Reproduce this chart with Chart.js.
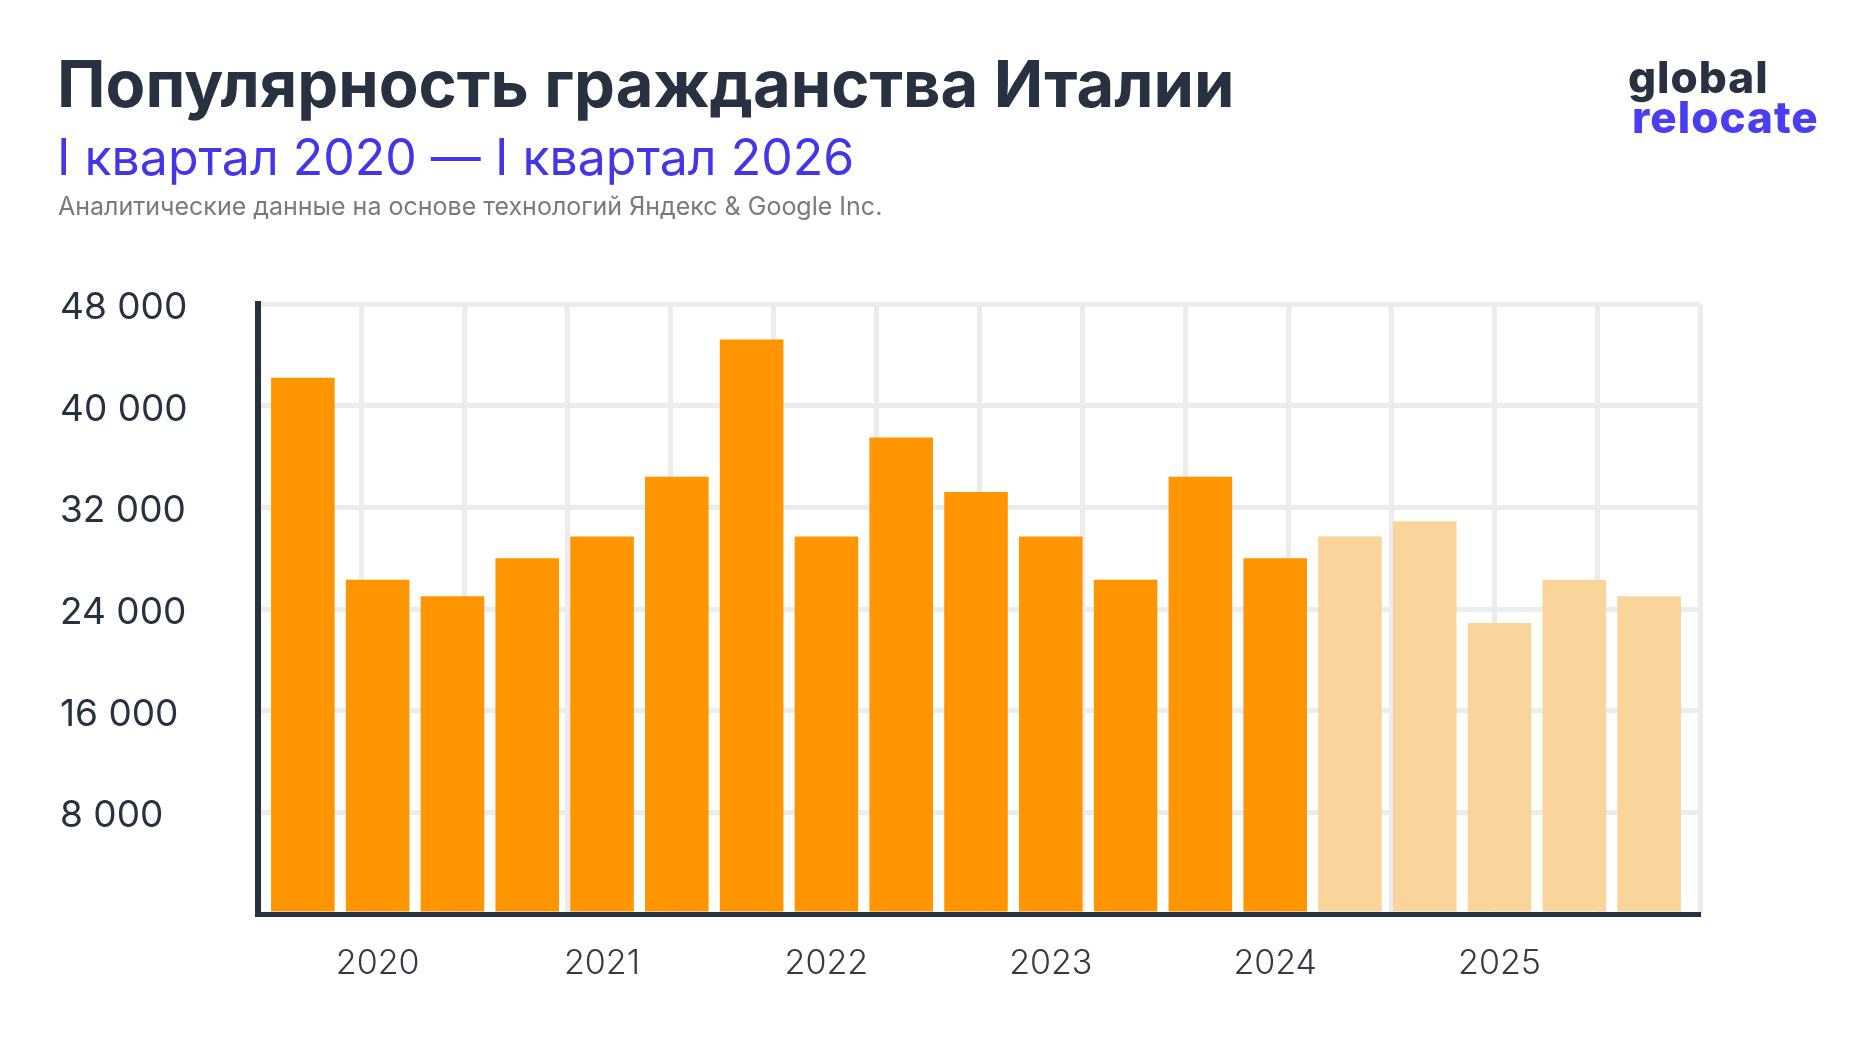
<!DOCTYPE html>
<html>
<head>
<meta charset="utf-8">
<script src="https://cdn.jsdelivr.net/npm/chart.js@4"></script>
<style>
  html, body { margin: 0; padding: 0; background: #fff; }
  #wrap { position: relative; width: 1870px; height: 1043px; }
</style>
</head>
<body>
<div id="wrap"><canvas id="chartItaly"></canvas></div>
<script>
// texts
const titleText = 'Популярность гражданства Италии'
const periodText = 'I квартал 2020 — I квартал 2026'
const sourceText = 'Аналитические данные на основе технологий Яндекс & Google Inc.'
const logoTop = 'global'
const logoBottom = 'relocate'

// data, one bar per quarter; last bars are the lighter (forecast) ones
const values = [42200, 26300, 25000, 28000, 29700, 34400, 45200, 29700, 37500, 33200,
  29700, 26300, 34400, 28000, 29700, 30900, 22900, 26300, 25000]
const forecastFrom = 14
const yearLabels = ['2020', '2021', '2022', '2023', '2024', '2025']
const yearTickIndex = [1, 4, 7, 10, 13, 16]
const yMax = 48000
const yStep = 8000

const DARK = '#283140'
const ORANGE = '#ff9500'
const LIGHT = '#f9d49b'
const GRID = '#ececec'

const fmt = (v) => String(v).replace(/\B(?=(\d{3})+(?!\d))/g, ' ')

const header = {
  id: 'header',
  afterDraw (chart) {
    const ctx = chart.ctx
    ctx.save()
    ctx.textBaseline = 'alphabetic'
    ctx.textAlign = 'left'
    ctx.fillStyle = DARK
    ctx.font = '700 65px Inter'
    ctx.fillText(titleText, 57, 107)
    ctx.fillStyle = '#4336e8'
    ctx.font = '400 50px Inter'
    ctx.fillText(periodText, 57, 175)
    ctx.fillStyle = '#7a7a7a'
    ctx.font = '400 25px Inter'
    ctx.fillText(sourceText, 58, 215)
    ctx.fillStyle = DARK
    ctx.font = '800 44px Inter'
    ctx.letterSpacing = '1px'
    ctx.fillText(logoTop, 1628, 93)
    ctx.fillStyle = '#4a3df2'
    ctx.fillText(logoBottom, 1632, 133)
    ctx.restore()
  }
}

new Chart(document.getElementById('chartItaly').getContext('2d'), {
  type: 'bar',
  data: {
    datasets: [{
      data: values.map((v, i) => ({ x: i, y: v })),
      backgroundColor: (c) => c.dataIndex >= forecastFrom ? LIGHT : ORANGE,
      borderWidth: 0,
      categoryPercentage: 1,
      barPercentage: 0.85
    }]
  },
  options: {
    responsive: true,
    maintainAspectRatio: false,
    animation: false,
    devicePixelRatio: 1,
    layout: { padding: { left: 60, right: 170, top: 304, bottom: 0 } },
    plugins: { legend: { display: false }, tooltip: { enabled: false } },
    scales: {
      x: {
        type: 'linear',
        offset: false,
        min: -0.6,
        max: 18.68,
        grid: { display: false, offset: false },
        border: { display: true, color: DARK, width: 5, z: 1 },
        afterBuildTicks: (axis) => { axis.ticks = yearTickIndex.map(v => ({ value: v })) },
        afterFit: (axis) => { axis.height = 129 },
        ticks: {
          autoSkip: false,
          maxRotation: 0,
          padding: 21,
          color: '#333a44',
          font: { family: 'Inter', size: 34, weight: 300 },
          callback: (v, i) => yearLabels[i]
        }
      },
      xGrid: {
        type: 'linear',
        position: 'bottom',
        offset: false,
        min: 0,
        max: 14,
        afterFit: (axis) => { axis.height = 0 },
        ticks: { display: false, stepSize: 1 },
        grid: { color: GRID, lineWidth: 5, drawTicks: false, offset: false },
        border: { display: false }
      },
      y: {
        min: 0,
        max: yMax,
        afterFit: (axis) => { axis.width = 198 },
        grid: { color: GRID, lineWidth: 5, drawTicks: false },
        border: { display: true, color: DARK, width: 6, z: 1 },
        ticks: {
          stepSize: yStep,
          crossAlign: 'far',
          labelOffset: 4,
          color: DARK,
          font: { family: 'Inter', size: 37, weight: 400 },
          callback: (v) => v === 0 ? '' : fmt(v)
        }
      }
    }
  },
  plugins: [header]
})
</script>
</body>
</html>
